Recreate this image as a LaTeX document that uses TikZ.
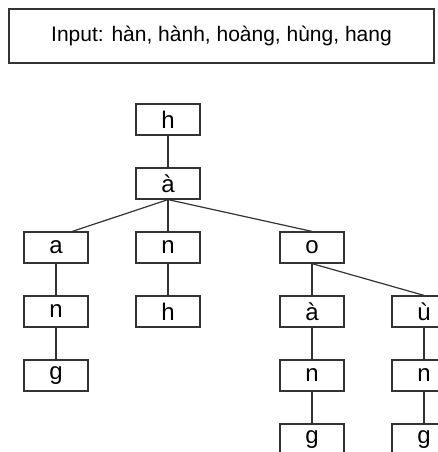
\documentclass[tikz,border=0pt]{standalone}
\usepackage{fontspec}
\setmainfont{Liberation Sans}
\usetikzlibrary{calc}
\begin{document}
\begin{tikzpicture}[x=1pt,y=-1pt,
  frame/.style={draw=black!80,line width=1.2pt},
  letter/.style={frame,minimum width=64pt,minimum height=31pt,inner sep=0pt,
    font=\fontsize{24}{28}\selectfont},
  link/.style={draw=black!80,line width=1.2pt}]
\useasboundingbox (0,0) rectangle (438,452);

% heading box with the input words
\node[frame,minimum width=425pt,minimum height=54pt,inner sep=0pt,
  font=\fontsize{21}{25}\selectfont] (input) at (221.5,36)
  {Input: hàn, hành, hoàng, hùng, hang};

% trie nodes, one row every 64pt
\node[letter] (h)   at (168,119.5) {h};
\node[letter] (a1)  at (168,183.5) {à};
\node[letter] (a2)  at (56,247.5)  {a};
\node[letter] (n1)  at (168,247.5) {n};
\node[letter] (o)   at (312,247.5) {o};
\node[letter] (n2)  at (56,311.5)  {n};
\node[letter] (h2)  at (168,311.5) {h};
\node[letter] (a3)  at (312,311.5) {à};
\node[letter] (u)   at (424,311.5) {ù};
\node[letter] (g1)  at (56,375.5)  {g};
\node[letter] (n3)  at (312,375.5) {n};
\node[letter] (n4)  at (424,375.5) {n};
\node[letter] (g2)  at (312,439.5) {g};
\node[letter] (g3)  at (424,439.5) {g};

% edges
\draw[link] (h.south) -- (a1.north);
\draw[link] (a1.south) -- ($(a2.north)!0.5!(a2.north east)$);
\draw[link] (a1.south) -- (n1.north);
\draw[link] (a1.south) -- (o.north);
\draw[link] (a2.south) -- (n2.north);
\draw[link] (n2.south) -- (g1.north);
\draw[link] (n1.south) -- (h2.north);
\draw[link] (o.south) -- (a3.north);
\draw[link] (o.south) -- (u.north);
\draw[link] (a3.south) -- (n3.north);
\draw[link] (n3.south) -- (g2.north);
\draw[link] (u.south) -- (n4.north);
\draw[link] (n4.south) -- (g3.north);
\end{tikzpicture}
\end{document}
